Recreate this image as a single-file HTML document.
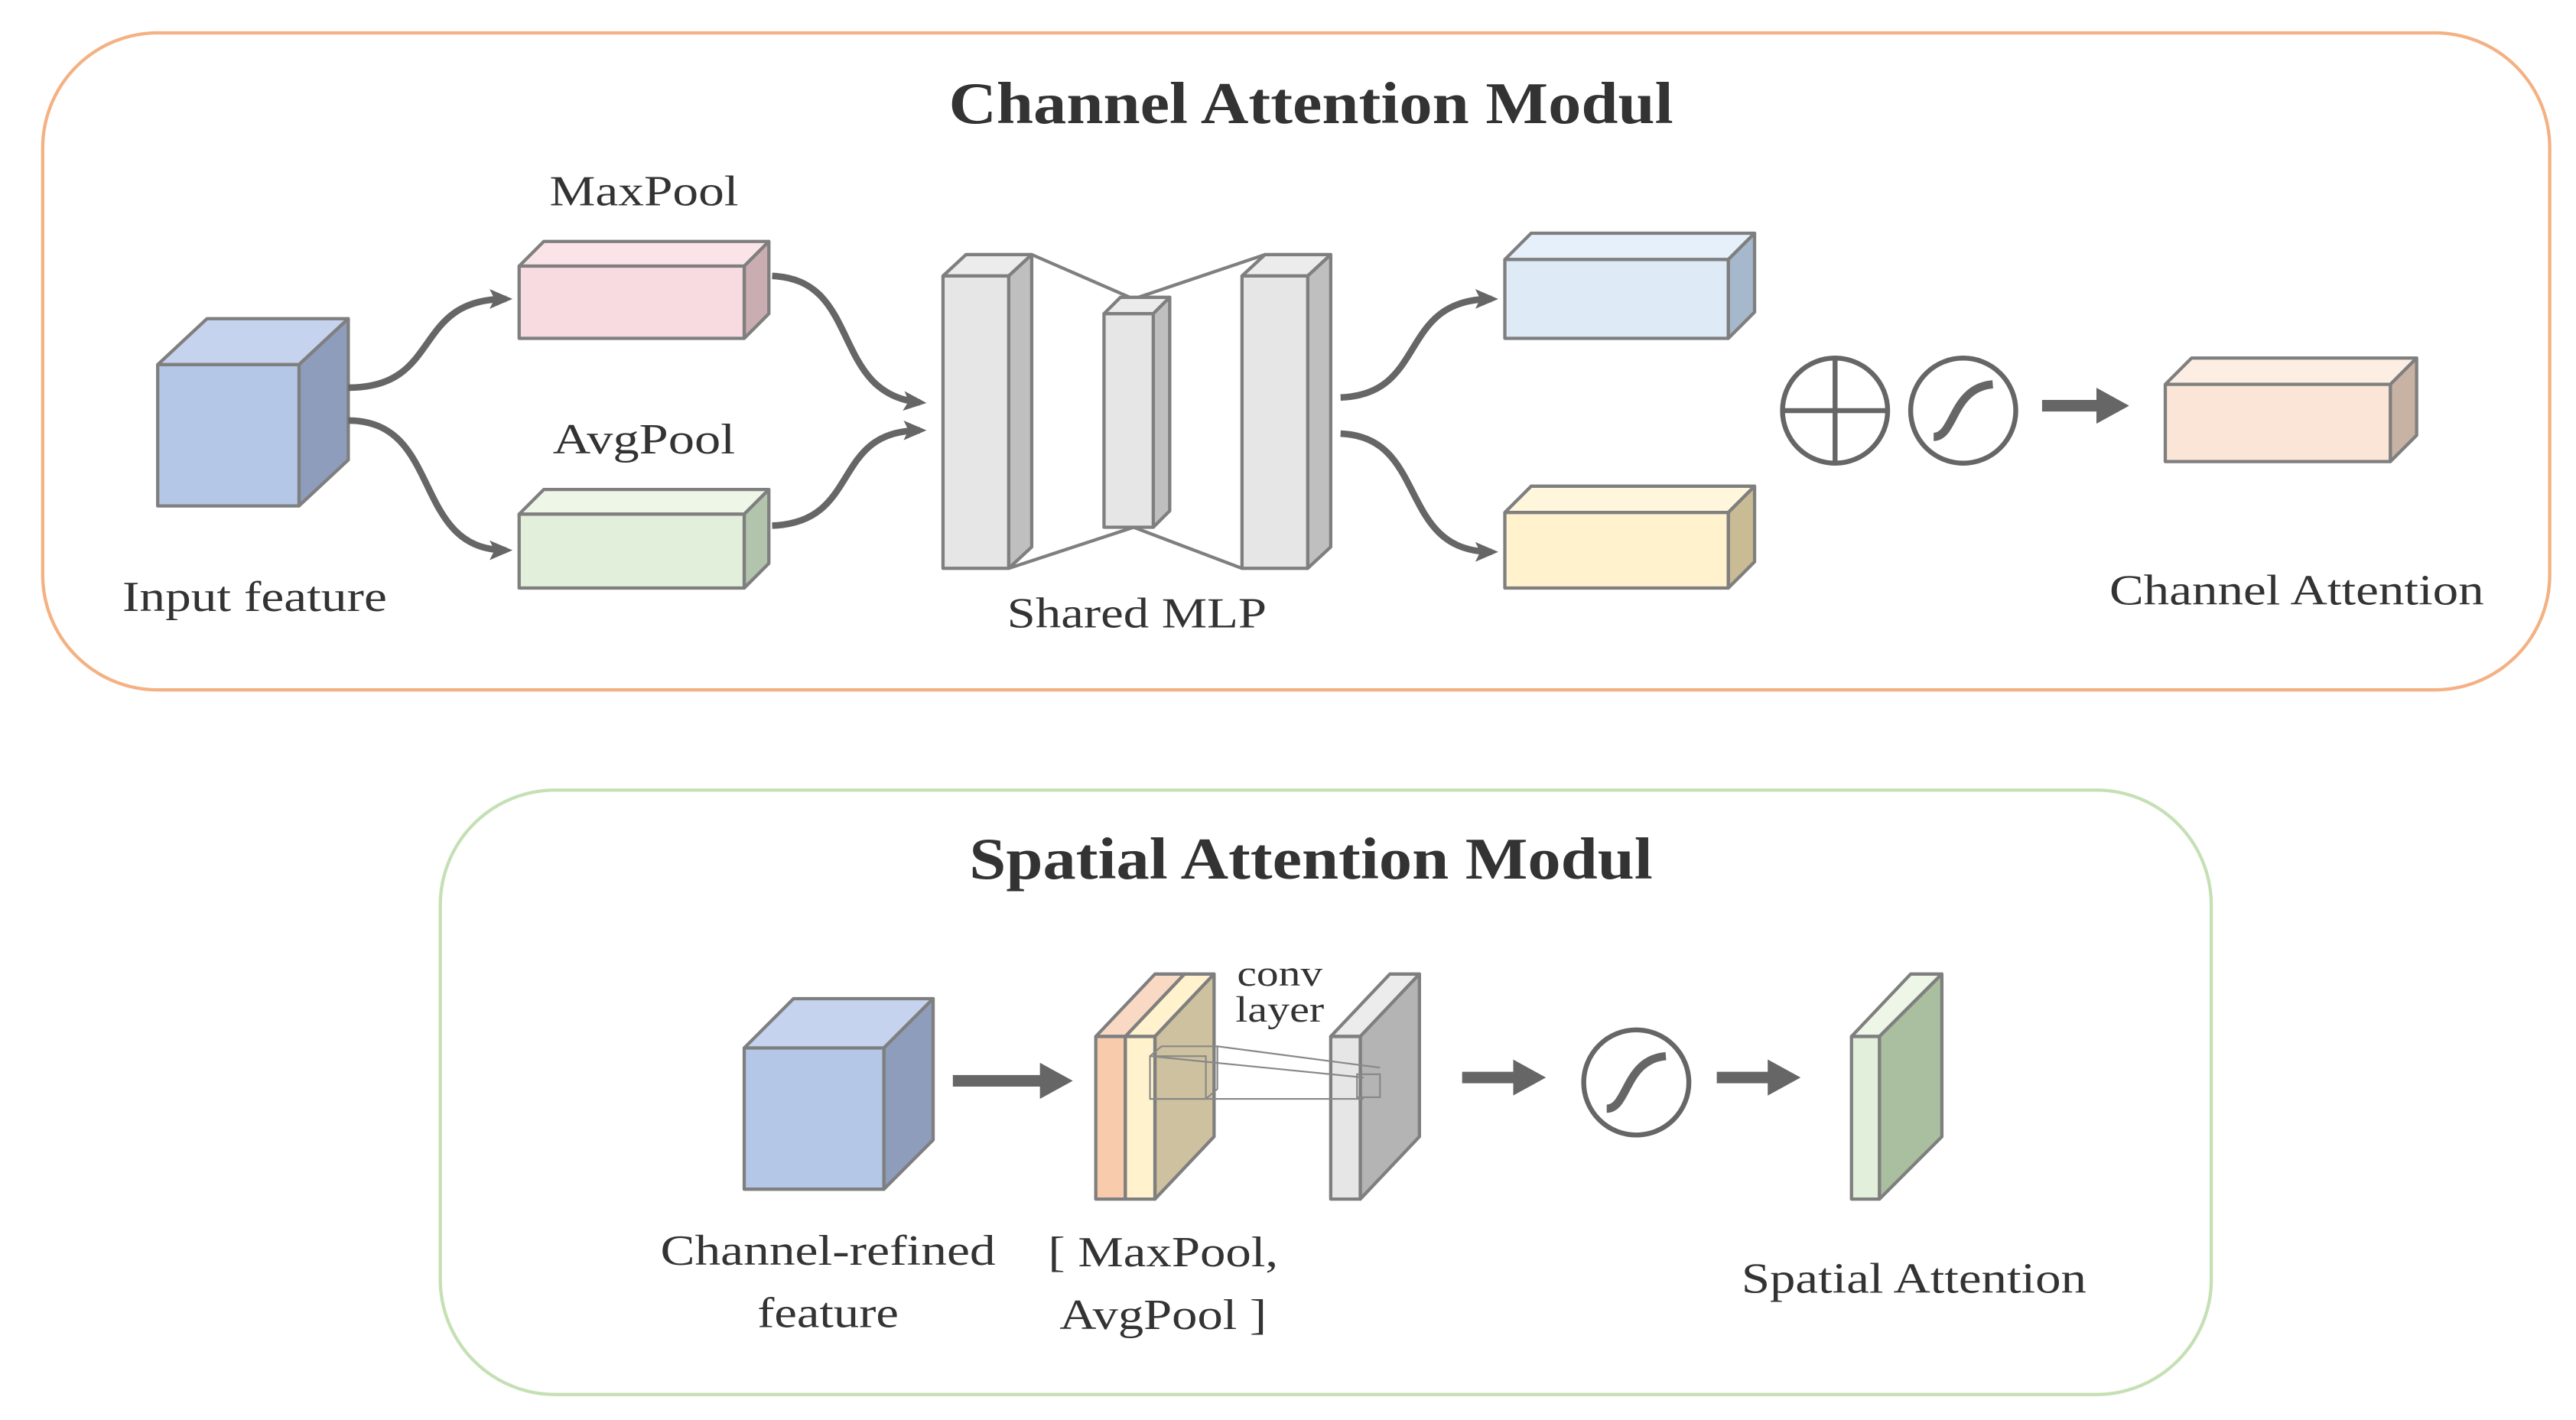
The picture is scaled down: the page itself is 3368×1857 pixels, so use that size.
<!DOCTYPE html>
<html><head><meta charset="utf-8"><style>html,body{margin:0;padding:0;background:#fff}svg{display:block}</style></head><body>
<svg width="3368" height="1857" viewBox="0 0 1568 864.5" preserveAspectRatio="none" xmlns="http://www.w3.org/2000/svg" font-family="'Liberation Serif', serif">
<defs>
<marker id="ah" markerWidth="14" markerHeight="14" refX="10" refY="7" orient="auto" markerUnits="userSpaceOnUse" viewBox="0 0 14 14"><path d="M0,1 L14,7 L0,13 L3,7 Z" fill="#666"/></marker>
<marker id="ah2" markerWidth="20" markerHeight="22" refX="12" refY="11" orient="auto" markerUnits="userSpaceOnUse"><path d="M0,0 L20,11 L0,22 Z" fill="#666"/></marker>
</defs>
<g stroke="#7f7f7f" stroke-width="2" stroke-linejoin="round">
<rect x="26" y="20" width="1526" height="400" rx="70" fill="none" stroke="#f4b183"/>
<rect x="268" y="481" width="1078" height="368" rx="70" fill="none" stroke="#c5e0b4"/>
<polygon points="96,222 126,194 212,194 182,222" fill="#c5d3ee"/>
<polygon points="182,222 212,194 212,280 182,308" fill="#8e9dbb"/>
<rect x="96" y="222" width="86" height="86" fill="#b4c7e7"/>
<polygon points="316,162 331,147 468,147 453,162" fill="#fbe4e8"/>
<polygon points="453,162 468,147 468,191 453,206" fill="#c9adb0"/>
<rect x="316" y="162" width="137" height="44" fill="#f8dbe0"/>
<polygon points="316,313 331,298 468,298 453,313" fill="#eef6e8"/>
<polygon points="453,313 468,298 468,343 453,358" fill="#b3c4ad"/>
<rect x="316" y="313" width="137" height="45" fill="#e2efda"/>
<polyline points="628,155 690,182 770,155" fill="none"/>
<polyline points="614,346 690,321 756,346" fill="none"/>
<polygon points="574,168 588,155 628,155 614,168" fill="#ececec"/>
<polygon points="614,168 628,155 628,333 614,346" fill="#bfbfbf"/>
<rect x="574" y="168" width="40" height="178" fill="#e6e6e6"/>
<polygon points="672,191 682,181 712,181 702,191" fill="#ececec"/>
<polygon points="702,191 712,181 712,311 702,321" fill="#bfbfbf"/>
<rect x="672" y="191" width="30" height="130" fill="#e6e6e6"/>
<polygon points="756,168 770,155 810,155 796,168" fill="#ececec"/>
<polygon points="796,168 810,155 810,333 796,346" fill="#bfbfbf"/>
<rect x="756" y="168" width="40" height="178" fill="#e6e6e6"/>
<polygon points="916,158 932,142 1068,142 1052,158" fill="#e6f0fa"/>
<polygon points="1052,158 1068,142 1068,190 1052,206" fill="#a6b8cc"/>
<rect x="916" y="158" width="136" height="48" fill="#deebf7"/>
<polygon points="916,312 932,296 1068,296 1052,312" fill="#fff6dc"/>
<polygon points="1052,312 1068,296 1068,342 1052,358" fill="#c9bb94"/>
<rect x="916" y="312" width="136" height="46" fill="#fff2cc"/>
<polygon points="1318,234 1334,218 1471,218 1455,234" fill="#fdeee4"/>
<polygon points="1455,234 1471,218 1471,265 1455,281" fill="#c8b2a3"/>
<rect x="1318" y="234" width="137" height="47" fill="#fbe5d6"/>
</g>
<g fill="none" stroke="#666" stroke-width="4">
<path d="M212,236 C 270,236 250,182 308,182" marker-end="url(#ah)"/>
<path d="M212,256 C 270,256 250,335 308,335" marker-end="url(#ah)"/>
<path d="M470,168 C 525,170 505,240 560,245" marker-end="url(#ah)"/>
<path d="M470,320 C 525,318 505,262 560,262" marker-end="url(#ah)"/>
<path d="M816,242 C 870,240 850,182 908,182" marker-end="url(#ah)"/>
<path d="M816,264 C 870,266 850,336 908,336" marker-end="url(#ah)"/>
<line x1="1243" y1="247" x2="1288" y2="247" stroke-width="7" marker-end="url(#ah2)"/>
<line x1="580" y1="658" x2="645" y2="658" stroke-width="7" marker-end="url(#ah2)"/>
<line x1="890" y1="656" x2="933" y2="656" stroke-width="7" marker-end="url(#ah2)"/>
<line x1="1045" y1="656" x2="1088" y2="656" stroke-width="7" marker-end="url(#ah2)"/>
</g>
<g fill="none" stroke="#666" stroke-width="3">
<circle cx="1117" cy="250" r="32"/><line x1="1085" y1="250" x2="1149" y2="250"/><line x1="1117" y1="218" x2="1117" y2="282"/>
<circle cx="1195" cy="250" r="32"/><path d="M1177,266 C1190,266 1188,236 1213,234" stroke-width="5"/>
<circle cx="996" cy="659" r="32"/><path d="M978,675 C991,675 989,645 1014,643" stroke-width="5"/>
</g>
<g stroke="#7f7f7f" stroke-width="2" stroke-linejoin="round">
<polygon points="453,638 483,608 568,608 538,638" fill="#c5d3ee"/>
<polygon points="538,638 568,608 568,694 538,724" fill="#8e9dbb"/>
<rect x="453" y="638" width="85" height="86" fill="#b4c7e7"/>
<polygon points="667,631 703,593 721,593 685,631" fill="#f9d9c3"/>
<polygon points="685,631 721,593 739,593 703,631" fill="#fff2cc"/>
<polygon points="703,631 739,593 739,692 703,730" fill="#cdc19f"/>
<rect x="667" y="631" width="18" height="99" fill="#f8cbad"/>
<rect x="685" y="631" width="18" height="99" fill="#fff2cc"/>
<polygon points="810,631 846,593 864,593 828,631" fill="#ececec"/>
<polygon points="828,631 864,593 864,692 828,730" fill="#b4b4b4"/>
<rect x="810" y="631" width="18" height="99" fill="#e6e6e6"/>
<polygon points="1127,631 1163,593 1182,593 1144,631" fill="#eef6e8"/>
<polygon points="1144,631 1182,593 1182,692 1144,730" fill="#a9bfa0"/>
<rect x="1127" y="631" width="17" height="99" fill="#e2efda"/>
</g>
<g fill="none" stroke="#888" stroke-width="1">
<rect x="700" y="643" width="34" height="26"/>
<polyline points="700,643 707,637 741,637 741,663 734,669"/>
<line x1="741" y1="637" x2="840" y2="650"/>
<line x1="700" y1="643" x2="830" y2="656"/>
<line x1="700" y1="669" x2="830" y2="669"/>
<rect x="826" y="654" width="14" height="14"/>
</g>
<g fill="#333" text-anchor="middle" font-size="26" lengthAdjust="spacingAndGlyphs">
<text x="798" y="75" font-size="36" font-weight="bold" textLength="441" lengthAdjust="spacingAndGlyphs">Channel Attention Modul</text>
<text x="798" y="535" font-size="36" font-weight="bold" textLength="416" lengthAdjust="spacingAndGlyphs">Spatial Attention Modul</text>
<text x="392" y="125" textLength="115" lengthAdjust="spacingAndGlyphs">MaxPool</text>
<text x="392" y="276" textLength="111" lengthAdjust="spacingAndGlyphs">AvgPool</text>
<text x="155" y="372" textLength="161" lengthAdjust="spacingAndGlyphs">Input feature</text>
<text x="692" y="382" textLength="158" lengthAdjust="spacingAndGlyphs">Shared MLP</text>
<text x="1398" y="368" textLength="228" lengthAdjust="spacingAndGlyphs">Channel Attention</text>
<text x="779" y="600" font-size="22" textLength="52" lengthAdjust="spacingAndGlyphs">conv</text>
<text x="779" y="622" font-size="22" textLength="54" lengthAdjust="spacingAndGlyphs">layer</text>
<text x="504" y="770" textLength="204" lengthAdjust="spacingAndGlyphs">Channel-refined</text>
<text x="504" y="808" textLength="86" lengthAdjust="spacingAndGlyphs">feature</text>
<text x="708" y="771" textLength="140" lengthAdjust="spacingAndGlyphs">[ MaxPool,</text>
<text x="708" y="809" textLength="126" lengthAdjust="spacingAndGlyphs">AvgPool ]</text>
<text x="1165" y="787" textLength="210" lengthAdjust="spacingAndGlyphs">Spatial Attention</text>
</g>
</svg>
</body></html>
